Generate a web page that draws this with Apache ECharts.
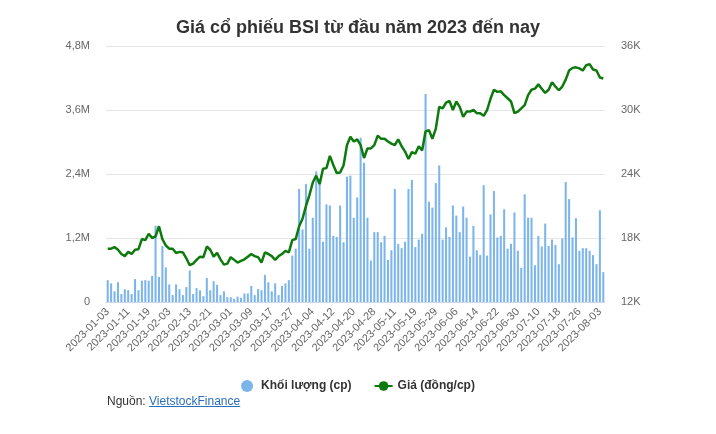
<!DOCTYPE html>
<html>
<head>
<meta charset="utf-8">
<title>BSI</title>
<script src="https://cdn.jsdelivr.net/npm/echarts@6/dist/echarts.min.js"></script>
<style>
  html, body { margin: 0; padding: 0; background: #fff; }
  #main { width: 716px; height: 434px; }
  .source {
    position: absolute; left: 107px; top: 394px;
    font: 12px "Liberation Sans", Arial, sans-serif; color: #333;
  }
  .source a { color: #2a6ebb; text-decoration: underline; }
</style>
</head>
<body>
<div id="main"></div>
<div class="source">Nguồn: <a href="#">VietstockFinance</a></div>
<script>
// trading days of 2023 by month
var tradingDays = {
  '01': [3,4,5,6,9,10,11,12,13,16,17,18,19,27,30,31],
  '02': [1,2,3,6,7,8,9,10,13,14,15,16,17,20,21,22,23,24,27,28],
  '03': [1,2,3,6,7,8,9,10,13,14,15,16,17,20,21,22,23,24,27,28,29,30,31],
  '04': [3,4,5,6,7,10,11,12,13,14,17,18,19,20,21,24,25,26,27,28],
  '05': [4,5,8,9,10,11,12,15,16,17,18,19,22,23,24,25,26,29,30,31],
  '06': [1,2,5,6,7,8,9,12,13,14,15,16,19,20,21,22,23,26,27,28,29,30],
  '07': [3,4,5,6,7,10,11,12,13,14,17,18,19,20,21,24,25,26,27,28,31],
  '08': [1,2,3,4]
};

// volume, millions of shares
var volumeM = [
  0.41,0.35,0.20,0.37,0.15,0.24,0.22,0.15,0.43,0.22,
  0.40,0.41,0.40,0.49,1.43,0.47,1.05,0.65,0.33,0.13,
  0.33,0.24,0.13,0.28,0.59,0.15,0.26,0.22,0.11,0.45,
  0.22,0.39,0.32,0.13,0.20,0.09,0.09,0.06,0.10,0.08,
  0.16,0.16,0.30,0.13,0.24,0.22,0.51,0.37,0.20,0.35,
  0.13,0.30,0.35,0.41,0.87,1.00,2.12,1.36,2.21,1.00,
  1.58,2.45,2.31,1.13,1.83,1.81,1.24,1.22,1.81,1.12,
  2.35,2.37,1.58,1.96,3.08,2.61,1.58,0.78,1.31,1.31,
  1.12,1.24,0.79,0.97,2.12,1.09,1.01,1.13,2.12,2.29,
  1.03,1.17,1.28,3.90,1.88,1.77,2.23,2.56,1.17,1.40,
  1.22,1.81,1.62,1.31,1.79,1.58,0.85,1.43,0.97,0.88,
  2.19,0.87,1.64,2.08,1.21,1.24,1.74,1.00,1.09,1.68,
  0.96,0.64,2.02,1.58,1.58,0.69,1.24,1.04,1.47,1.05,
  1.17,1.07,0.71,1.19,2.25,1.93,1.21,1.57,0.96,1.01,
  1.01,0.96,0.88,0.71,1.72,0.56
];

// close price, thousand dong
var priceK = [
  17.0,17.0,17.15,16.9,16.5,16.3,16.7,16.5,16.9,16.95,
  17.9,17.8,18.4,18.0,18.15,19.1,17.9,17.3,17.0,17.0,
  16.6,16.7,16.65,16.1,15.45,15.6,15.95,16.25,16.2,17.2,
  16.9,16.25,16.6,16.0,15.5,15.6,16.2,15.95,15.7,15.85,
  16.0,16.25,16.5,16.3,16.2,15.7,16.65,16.5,16.3,15.95,
  16.3,16.5,16.8,16.65,17.8,17.9,19.1,19.8,21.0,22.0,
  23.2,23.85,23.05,24.5,24.55,25.7,24.85,24.1,24.15,24.8,
  26.7,27.5,27.05,27.25,26.7,25.5,26.4,26.4,26.7,27.6,
  27.3,27.3,27.05,26.85,26.7,27.25,26.6,26.1,25.4,26.05,
  25.9,26.6,26.2,28.0,28.1,27.3,28.25,30.3,30.15,30.7,
  30.85,30.0,30.8,30.3,29.35,29.85,29.85,30.0,29.7,29.7,
  29.45,30.0,31.05,31.9,31.7,31.75,31.4,31.1,30.8,29.7,
  29.85,30.15,30.45,31.4,31.9,32.0,32.4,32.0,31.6,31.9,
  32.6,32.2,31.85,32.2,32.85,33.7,33.95,34.0,33.9,33.7,
  34.2,34.3,33.8,33.7,33.05,32.95
];

var dates = [];
Object.keys(tradingDays).forEach(function (m) {
  tradingDays[m].forEach(function (d) {
    dates.push('2023-' + m + '-' + (d < 10 ? '0' + d : d));
  });
});

var font = '"Liberation Sans", Arial, sans-serif';
var myChart = echarts.init(document.getElementById('main'));
var option = {
  animation: false,
  textStyle: { fontFamily: font },
  title: {
    text: 'Giá cổ phiếu BSI từ đầu năm 2023 đến nay',
    left: 'center',
    top: 14,
    textStyle: { fontSize: 18, fontWeight: 'bold', color: '#333', fontFamily: font }
  },
  legend: {
    top: 375,
    left: 'center',
    itemGap: 22,
    itemWidth: 18,
    itemHeight: 12,
    textStyle: { fontSize: 12, fontWeight: 'bold', color: '#333', fontFamily: font },
    data: [
      { name: 'Khối lượng (cp)', icon: 'circle' },
      { name: 'Giá (đồng/cp)' }
    ]
  },
  grid: { left: 106, right: 111, top: 46, bottom: 132 },
  xAxis: {
    type: 'category',
    data: dates,
    boundaryGap: true,
    axisLine: { lineStyle: { color: '#ccd6eb' } },
    axisTick: { interval: 5, alignWithLabel: true, length: 6, lineStyle: { color: '#ccd6eb' } },
    axisLabel: { interval: 5, rotate: 45, fontSize: 11, color: '#666', margin: 8 }
  },
  yAxis: [
    {
      type: 'value',
      min: 0,
      max: 4800000,
      interval: 1200000,
      axisLine: { show: false },
      axisTick: { show: false },
      splitLine: { lineStyle: { color: '#e6e6e6' } },
      axisLabel: {
        fontSize: 11, color: '#666', margin: 16,
        formatter: function (v) {
          return v === 0 ? '0' : (v / 1e6).toFixed(1).replace('.', ',') + 'M';
        }
      }
    },
    {
      type: 'value',
      min: 12000,
      max: 36000,
      interval: 6000,
      axisLine: { show: false },
      axisTick: { show: false },
      splitLine: { show: false },
      axisLabel: {
        fontSize: 11, color: '#666', margin: 16,
        formatter: function (v) { return (v / 1000) + 'K'; }
      }
    }
  ],
  series: [
    {
      name: 'Khối lượng (cp)',
      type: 'bar',
      barWidth: '60%',
      itemStyle: { color: '#7cb5ec' },
      data: volumeM.map(function (v) { return Math.round(v * 1e6); })
    },
    {
      name: 'Giá (đồng/cp)',
      type: 'line',
      yAxisIndex: 1,
      symbol: 'circle',
      symbolSize: 6,
      showSymbol: false,
      lineStyle: { width: 2.5, color: '#0e7a0e' },
      itemStyle: { color: '#0e7a0e' },
      data: priceK.map(function (v) { return Math.round(v * 1000); })
    }
  ]
};
option && myChart.setOption(option);
</script>
</body>
</html>
